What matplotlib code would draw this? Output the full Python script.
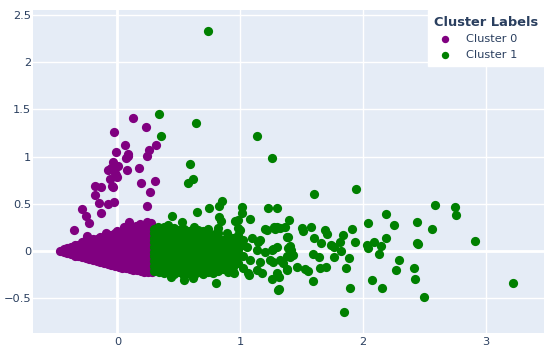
import matplotlib.pyplot as plt

# --- data ----------------------------------------------------------------
# cluster 0: scattered points above the main wedge
c0_spread = [(0.129, 1.407), (0.230, 1.314), (-0.031, 1.261), (0.064, 1.126), (0.314, 1.123),
             (-0.010, 1.052), (0.259, 1.070), (0.083, 1.028), (0.067, 0.982), (0.088, 1.005),
             (0.238, 1.003), (-0.034, 0.939), (0.002, 0.904), (0.178, 0.882), (-0.080, 0.855),
             (-0.050, 0.876), (0.080, 0.862), (-0.020, 0.823), (-0.012, 0.800), (-0.061, 0.758),
             (0.000, 0.780), (0.194, 0.720), (0.303, 0.745), (-0.181, 0.688), (-0.137, 0.680),
             (-0.047, 0.688), (-0.040, 0.675), (0.267, 0.627), (-0.186, 0.592), (-0.153, 0.504),
             (-0.080, 0.497), (-0.031, 0.515), (0.243, 0.477), (-0.287, 0.440), (-0.254, 0.369),
             (-0.232, 0.298), (-0.357, 0.221), (-0.134, 0.398), (0.094, 0.309), (0.183, 0.285),
             (0.238, 0.309), (-0.007, 0.213), (-0.094, 0.186), (-0.251, 0.157), (0.270, 0.290),
             (0.150, 0.260), (0.050, 0.250)]

# cluster 0: dense wedge, (x, [y values]) per column
c0_blob = [(-0.47, [0.00]),
           (-0.44, [-0.01, 0.015]),
           (-0.41, [-0.02, 0.01, 0.035]),
           (-0.38, [-0.035, 0.0, 0.04]),
           (-0.35, [-0.05, -0.01, 0.03, 0.06]),
           (-0.32, [-0.06, -0.02, 0.02, 0.06]),
           (-0.29, [-0.07, -0.03, 0.01, 0.05, 0.09]),
           (-0.26, [-0.08, -0.04, 0.00, 0.04, 0.08, 0.11]),
           (-0.23, [-0.09, -0.05, -0.01, 0.03, 0.07, 0.11]),
           (-0.20, [-0.10, -0.06, -0.02, 0.02, 0.06, 0.10, 0.13]),
           (-0.17, [-0.11, -0.07, -0.03, 0.01, 0.05, 0.09, 0.13]),
           (-0.14, [-0.12, -0.08, -0.04, 0.00, 0.04, 0.08, 0.12, 0.15]),
           (-0.11, [-0.13, -0.09, -0.05, -0.01, 0.03, 0.07, 0.11, 0.15]),
           (-0.08, [-0.14, -0.10, -0.06, -0.02, 0.02, 0.06, 0.10, 0.14, 0.17]),
           (-0.05, [-0.15, -0.11, -0.07, -0.03, 0.01, 0.05, 0.09, 0.13, 0.17]),
           (-0.02, [-0.16, -0.12, -0.08, -0.04, 0.00, 0.04, 0.08, 0.12, 0.16, 0.19]),
           (0.01, [-0.17, -0.13, -0.09, -0.05, -0.01, 0.03, 0.07, 0.11, 0.15, 0.19]),
           (0.04, [-0.18, -0.14, -0.10, -0.06, -0.02, 0.02, 0.06, 0.10, 0.14, 0.18, 0.21]),
           (0.07, [-0.18, -0.14, -0.10, -0.06, -0.02, 0.02, 0.06, 0.10, 0.14, 0.18, 0.22]),
           (0.10, [-0.19, -0.15, -0.11, -0.07, -0.03, 0.01, 0.05, 0.09, 0.13, 0.17, 0.21]),
           (0.13, [-0.20, -0.16, -0.12, -0.08, -0.04, 0.00, 0.04, 0.08, 0.12, 0.16, 0.20, 0.23]),
           (0.16, [-0.20, -0.16, -0.12, -0.08, -0.04, 0.00, 0.04, 0.08, 0.12, 0.16, 0.20, 0.24]),
           (0.19, [-0.21, -0.17, -0.13, -0.09, -0.05, -0.01, 0.03, 0.07, 0.11, 0.15, 0.19, 0.23]),
           (0.22, [-0.22, -0.17, -0.12, -0.07, -0.02, 0.03, 0.08, 0.13, 0.18, 0.23]),
           (0.25, [-0.22, -0.17, -0.12, -0.07, -0.02, 0.03, 0.08, 0.13, 0.18, 0.23, 0.27]),
           (0.28, [-0.23, -0.18, -0.13, -0.08, -0.03, 0.02, 0.07, 0.12, 0.17, 0.22, 0.26])]

# cluster 1: scattered points
c1_spread = [(0.735, 2.333), (0.341, 1.449), (0.640, 1.357), (0.355, 1.219), (1.134, 1.222),
             (1.257, 0.982), (0.591, 0.918), (0.613, 0.762), (0.577, 0.716), (1.944, 0.653),
             (1.599, 0.600), (0.852, 0.532), (0.830, 0.479), (2.588, 0.489), (2.753, 0.465),
             (1.017, 0.468), (1.224, 0.458), (1.300, 0.458), (0.743, 0.458), (0.650, 0.409),
             (1.017, 0.398), (2.188, 0.387), (2.759, 0.377), (0.444, 0.369), (0.825, 0.356),
             (1.077, 0.334), (1.400, 0.327), (0.841, 0.316), (0.955, 0.316), (0.985, 0.327),
             (0.523, 0.306), (2.443, 0.306), (2.039, 0.292), (2.256, 0.270), (1.275, 0.256),
             (1.324, 0.245), (1.365, 0.256), (1.501, 0.245), (1.509, 0.213), (1.577, 0.250),
             (1.694, 0.221), (1.705, 0.178), (1.909, 0.228), (2.566, 0.228), (0.980, 0.239),
             (1.000, 0.221), (1.202, 0.231), (1.284, 0.231), (1.216, 0.221), (1.297, 0.249),
             (1.840, 0.168), (1.604, 0.139), (1.387, 0.150), (1.379, 0.150), (2.186, 0.136),
             (1.094, 0.133), (1.161, 0.115), (2.911, 0.100), (1.143, 0.097), (1.656, 0.086),
             (1.813, 0.093), (1.936, 0.097), (2.090, 0.090), (2.438, 0.080), (2.446, 0.076),
             (1.743, 0.062), (1.764, 0.044), (2.031, 0.062), (2.145, 0.054), (1.406, 0.051),
             (1.053, 0.044), (2.039, 0.027), (1.392, 0.027), (1.411, 0.008), (1.297, 0.037),
             (1.265, 0.016), (1.134, 0.008), (1.257, 0.008), (1.202, -0.009), (1.821, 0.001),
             (2.134, -0.034), (1.596, -0.037), (1.433, -0.048), (1.406, -0.063), (1.379, -0.052),
             (1.642, -0.069), (1.767, -0.063), (1.889, -0.080), (1.324, -0.098), (1.243, -0.098),
             (1.080, -0.098), (1.161, -0.116), (2.292, -0.101), (1.270, -0.116), (1.351, -0.133),
             (1.465, -0.169), (1.650, -0.179), (1.699, -0.175), (1.862, -0.186), (2.416, -0.186),
             (1.384, -0.193), (1.531, -0.193), (1.550, -0.214), (2.267, -0.204), (1.134, -0.204),
             (1.379, -0.204), (0.944, -0.222), (1.297, -0.232), (1.066, -0.239), (0.949, -0.239),
             (1.175, -0.239), (1.072, -0.257), (0.433, -0.275), (1.319, -0.281), (0.613, -0.292),
             (1.257, -0.299), (2.425, -0.303), (0.542, -0.310), (2.072, -0.310), (1.591, -0.317),
             (0.803, -0.339), (3.226, -0.345), (1.895, -0.398), (2.158, -0.398), (1.319, -0.409),
             (1.306, -0.416), (2.498, -0.487), (1.846, -0.650), (0.414, 0.274), (0.333, 0.256),
             (0.808, 0.203), (0.890, 0.186)]

# cluster 1: dense block, (x, [y values]) per column
c1_blob = [(0.30, [-0.21, -0.16, -0.11, -0.06, -0.01, 0.04, 0.09, 0.14, 0.19, 0.23]),
           (0.34, [-0.23, -0.17, -0.12, -0.07, -0.02, 0.03, 0.08, 0.13, 0.18, 0.22]),
           (0.38, [-0.24, -0.19, -0.14, -0.09, -0.04, 0.01, 0.06, 0.11, 0.16, 0.21, 0.25]),
           (0.42, [-0.22, -0.17, -0.12, -0.07, -0.02, 0.03, 0.08, 0.13, 0.18, 0.23]),
           (0.46, [-0.25, -0.20, -0.15, -0.10, -0.05, 0.00, 0.05, 0.10, 0.15, 0.20, 0.24]),
           (0.50, [-0.23, -0.18, -0.13, -0.08, -0.03, 0.02, 0.07, 0.12, 0.17, 0.22]),
           (0.54, [-0.27, -0.21, -0.16, -0.11, -0.06, -0.01, 0.04, 0.09, 0.14, 0.19, 0.23]),
           (0.58, [-0.24, -0.19, -0.14, -0.09, -0.04, 0.01, 0.06, 0.11, 0.16, 0.21]),
           (0.62, [-0.26, -0.20, -0.15, -0.10, -0.05, 0.00, 0.05, 0.10, 0.15, 0.20, 0.25]),
           (0.66, [-0.23, -0.18, -0.13, -0.08, -0.03, 0.02, 0.07, 0.12, 0.17, 0.22]),
           (0.70, [-0.25, -0.19, -0.14, -0.09, -0.04, 0.01, 0.06, 0.11, 0.16, 0.21]),
           (0.74, [-0.22, -0.17, -0.12, -0.07, -0.02, 0.03, 0.08, 0.13, 0.18, 0.23]),
           (0.78, [-0.24, -0.18, -0.13, -0.08, -0.03, 0.02, 0.07, 0.12, 0.17]),
           (0.82, [-0.21, -0.16, -0.11, -0.06, -0.01, 0.04, 0.09, 0.14, 0.19, 0.24]),
           (0.86, [-0.19, -0.13, -0.08, -0.03, 0.02, 0.07, 0.12]),
           (0.90, [-0.22, -0.15, -0.10, -0.05, 0.00, 0.05, 0.10, 0.16]),
           (0.94, [-0.17, -0.11, -0.04, 0.03, 0.09, 0.14]),
           (0.98, [-0.13, -0.06, 0.01, 0.08, 0.17]),
           (1.02, [-0.18, -0.05, 0.06, 0.12])]

labels = ["Cluster 0", "Cluster 1"]
colors = ["purple", "green"]
x_ticks = [0, 1, 2, 3]
y_ticks = [-0.5, 0, 0.5, 1, 1.5, 2, 2.5]
y_tick_labels = ["\u22120.5", "0", "0.5", "1", "1.5", "2", "2.5"]


def points(spread, blob):
    xs = [p[0] for p in spread]
    ys = [p[1] for p in spread]
    for x, col in blob:
        for y in col:
            xs.append(x)
            ys.append(y)
    return xs, ys


plt.rcParams['font.family'] = ['DejaVu Sans']
fig = plt.figure(figsize=(5.5, 3.53), dpi=100)
ax = fig.add_axes([0.0606, 0.0575, 0.928, 0.9142])
ax.set_facecolor("#E5ECF6")

clusters = [points(c0_spread, c0_blob), points(c1_spread, c1_blob)]
for (xs, ys), lab, col in zip(clusters, labels, colors):
    ax.scatter(xs, ys, s=44, color=col, linewidths=0, label=lab, zorder=3)

ax.set_xlim(-0.686, 3.474)
ax.set_ylim(-0.869, 2.556)
ax.set_xticks(x_ticks)
ax.set_yticks(y_ticks)
ax.set_yticklabels(y_tick_labels)
ax.grid(color="white", linewidth=1, zorder=0)
ax.set_axisbelow(True)
ax.axhline(0, color="white", linewidth=2, zorder=1)
ax.axvline(0, color="white", linewidth=2, zorder=1)
for s in ax.spines.values():
    s.set_visible(False)
ax.tick_params(axis="y", length=0, pad=1.5, labelsize=8.2, labelcolor="#2a3f5f")
ax.tick_params(axis="x", length=0, pad=3, labelsize=8.2, labelcolor="#2a3f5f")

leg = ax.legend(title="Cluster Labels", loc="upper right", bbox_to_anchor=(1.0, 1.0),
                frameon=True, fancybox=False, framealpha=1, edgecolor="white",
                fontsize=8.2, title_fontproperties={"weight": "bold", "size": 9.4},
                alignment="left", markerscale=0.8, handletextpad=0.8,
                borderaxespad=0, borderpad=0.5, labelspacing=0.5)
leg.get_title().set_color("#2a3f5f")
for t in leg.get_texts():
    t.set_color("#2a3f5f")
leg.set_zorder(5)

fig.savefig("out.png", dpi=100)
